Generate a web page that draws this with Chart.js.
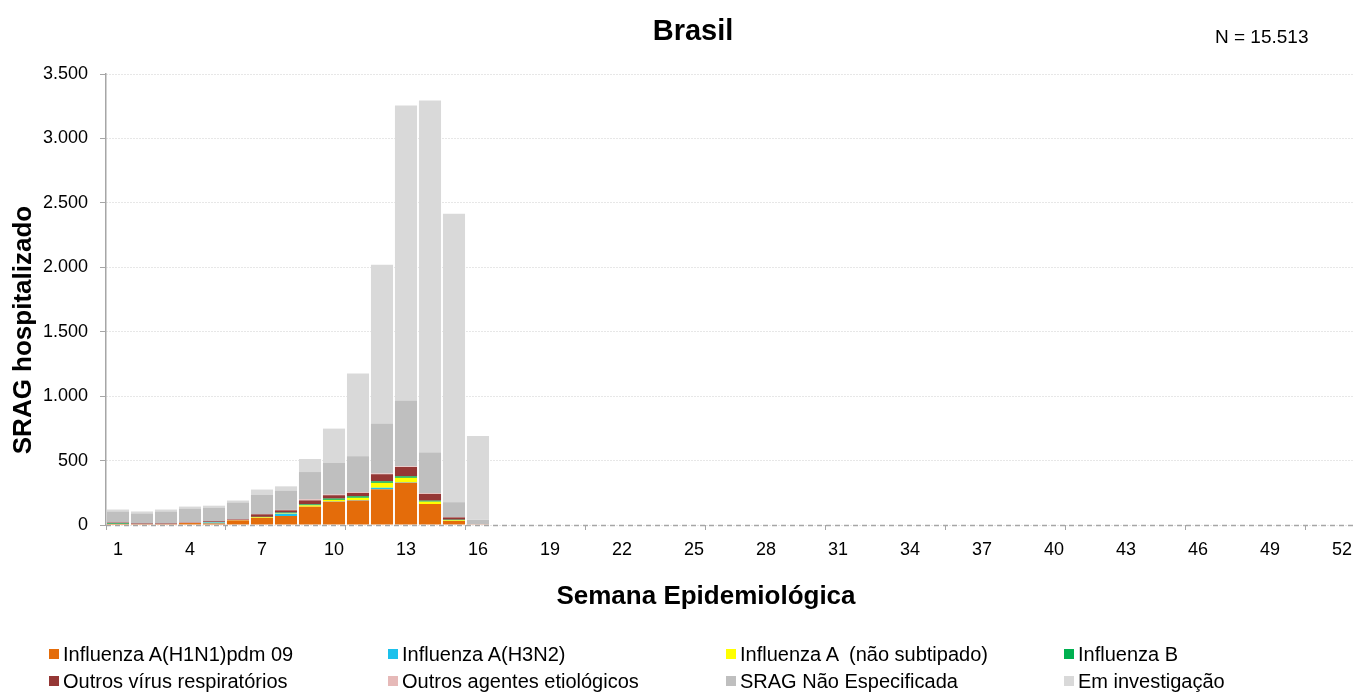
<!DOCTYPE html>
<html lang="pt-BR">
<head>
<meta charset="utf-8">
<title>Brasil – SRAG hospitalizado por semana epidemiológica</title>
<script src="https://cdn.jsdelivr.net/npm/chart.js@4.4.1/dist/chart.umd.min.js"></script>
<style>
  html, body { margin: 0; padding: 0; background: #ffffff; }
  body { width: 1361px; height: 695px; position: relative; overflow: hidden;
         font-family: "Liberation Sans", Arial, sans-serif; color: #000; }
  #wrap { position: absolute; left: 0; top: 0; width: 1361px; height: 695px; }
  #title { position: absolute; left: 493px; top: 14px; width: 400px; text-align: center;
           font-size: 29px; line-height: 32px; font-weight: bold; }
  #total { position: absolute; left: 1215px; top: 26px; font-size: 19px; line-height: 22px; white-space: pre; }
  #xTitle { position: absolute; left: 406px; top: 580px; width: 600px; text-align: center;
            font-size: 26px; line-height: 30px; font-weight: bold; }
  #yTitle { position: absolute; left: -178px; top: 315px; width: 400px; height: 30px; text-align: center;
            font-size: 26px; line-height: 30px; font-weight: bold; transform: rotate(-90deg); }
  #legend { position: absolute; left: 49px; top: 642px; display: grid;
            grid-template-columns: 339px 338px 338px 260px; row-gap: 3px; }
  #legend .item { display: flex; align-items: center; font-size: 20px; line-height: 24px; white-space: pre; }
  #legend .box { width: 10px; height: 10px; margin-right: 4px; flex: none; }
</style>
</head>
<body>
<div id="wrap"><canvas id="chart" width="1361" height="695"></canvas></div>
<div id="title">Brasil</div>
<div id="total">N = 15.513</div>
<div id="yTitle">SRAG hospitalizado</div>
<div id="xTitle">Semana Epidemiológica</div>
<div id="legend"></div>
<script>
// Semanas epidemiológicas (eixo x)
const weeks = [1, 2, 3, 4, 5, 6, 7, 8, 9, 10, 11, 12, 13, 14, 15, 16, 17, 18, 19, 20,
  21, 22, 23, 24, 25, 26, 27, 28, 29, 30, 31, 32, 33, 34, 35, 36, 37, 38, 39, 40,
  41, 42, 43, 44, 45, 46, 47, 48, 49, 50, 51, 52];

// Casos por semana (semanas 1 a 16), por classificação
const influenzaH1N1 = [8, 6, 6, 15, 12, 35, 55, 70, 142, 181, 190, 277, 328, 163, 31, 3];
const influenzaH3N2 = [0, 0, 0, 0, 8, 0, 0, 18, 0, 2, 3, 12, 3, 0, 0, 0];
const influenzaANaoSubtipado = [0, 0, 0, 0, 2, 2, 5, 5, 10, 12, 18, 38, 35, 18, 5, 0];
const influenzaB = [5, 0, 0, 0, 0, 0, 3, 3, 8, 10, 12, 12, 12, 8, 5, 0];
const outrosVirus = [6, 6, 6, 3, 7, 6, 20, 18, 31, 26, 26, 55, 72, 52, 18, 0];
const outrosAgentes = [1, 0, 0, 3, 0, 2, 2, 3, 8, 5, 5, 5, 5, 5, 2, 2];
const sragNaoEspecificada = [85, 78, 93, 107, 106, 130, 150, 150, 212, 248, 280, 388, 512, 318, 116, 35];
const emInvestigacao = [15, 15, 15, 15, 15, 15, 40, 33, 101, 264, 641, 1233, 2288, 2731, 2238, 650];

// Rótulos do eixo y
const yTicks = [0, 500, 1000, 1500, 2000, 2500, 3000, 3500];

const series = [
  { label: 'Influenza A(H1N1)pdm 09', data: influenzaH1N1, color: '#E46C0A' },
  { label: 'Influenza A(H3N2)', data: influenzaH3N2, color: '#1CC1EC' },
  { label: 'Influenza A  (não subtipado)', data: influenzaANaoSubtipado, color: '#FFFF00' },
  { label: 'Influenza B', data: influenzaB, color: '#00B050' },
  { label: 'Outros vírus respiratórios', data: outrosVirus, color: '#953735' },
  { label: 'Outros agentes etiológicos', data: outrosAgentes, color: '#E6B9B8' },
  { label: 'SRAG Não Especificada', data: sragNaoEspecificada, color: '#BFBFBF' },
  { label: 'Em investigação', data: emInvestigacao, color: '#D9D9D9' }
];

const fmt = v => String(v).replace(/\B(?=(\d{3})+(?!\d))/g, '.');
const FONT = '"Liberation Sans", Arial, sans-serif';

// Linha tracejada da base (valor 0), desenhada por cima das barras
const baseLine = {
  id: 'baseLine',
  afterDatasetsDraw(chart) {
    const { ctx, chartArea, scales } = chart;
    const y = Math.round(scales.y.getPixelForValue(0)) + 0.5;
    ctx.save();
    ctx.strokeStyle = '#A6A6A6';
    ctx.lineWidth = 1.5;
    ctx.setLineDash([5, 4]);
    ctx.beginPath();
    ctx.moveTo(chartArea.left, y);
    ctx.lineTo(chartArea.right, y);
    ctx.stroke();
    ctx.restore();
  }
};

new Chart(document.getElementById('chart'), {
  type: 'bar',
  data: {
    labels: weeks,
    datasets: series.map(s => ({
      label: s.label,
      data: s.data,
      backgroundColor: s.color,
      borderWidth: 0,
      barPercentage: 0.92,
      categoryPercentage: 1
    }))
  },
  options: {
    responsive: false,
    animation: false,
    devicePixelRatio: 1,
    layout: { padding: { left: 9, right: 2, top: 74, bottom: 125 } },
    plugins: {
      legend: { display: false },
      tooltip: { enabled: false },
      title: { display: false }
    },
    scales: {
      x: {
        stacked: true,
        offset: true,
        afterFit(scale) { scale.height = 45; },
        border: { display: false },
        grid: {
          offset: true,
          drawOnChartArea: false,
          drawTicks: true,
          tickLength: 5,
          tickWidth: 1,
          tickColor: c => (c.index % 5 === 0 ? '#A6A6A6' : 'rgba(0,0,0,0)')
        },
        ticks: {
          autoSkip: false,
          maxRotation: 0,
          minRotation: 0,
          padding: 9,
          color: '#000',
          font: { family: FONT, size: 18 },
          callback(value, index) { return index % 3 === 0 ? String(weeks[index]) : ''; }
        }
      },
      y: {
        stacked: true,
        min: 0,
        max: yTicks[yTicks.length - 1],
        afterFit(scale) { scale.width = 97; },
        afterBuildTicks(scale) { scale.ticks = yTicks.map(v => ({ value: v })); },
        border: { display: true, color: '#A6A6A6', width: 1.5, dash: [1, 2] },
        grid: {
          color: '#CFCFCF',
          lineWidth: 1,
          tickColor: '#A6A6A6',
          tickLength: 6,
          tickBorderDash: [],
          tickWidth: 1
        },
        ticks: {
          padding: 12,
          color: '#000',
          font: { family: FONT, size: 18 },
          callback: v => fmt(v)
        }
      }
    }
  },
  plugins: [baseLine]
});

// Legenda em duas linhas e quatro colunas
const legend = document.getElementById('legend');
series.forEach(s => {
  const item = document.createElement('div');
  item.className = 'item';
  const box = document.createElement('span');
  box.className = 'box';
  box.style.background = s.color;
  const txt = document.createElement('span');
  txt.textContent = s.label;
  item.appendChild(box);
  item.appendChild(txt);
  legend.appendChild(item);
});
</script>
</body>
</html>
